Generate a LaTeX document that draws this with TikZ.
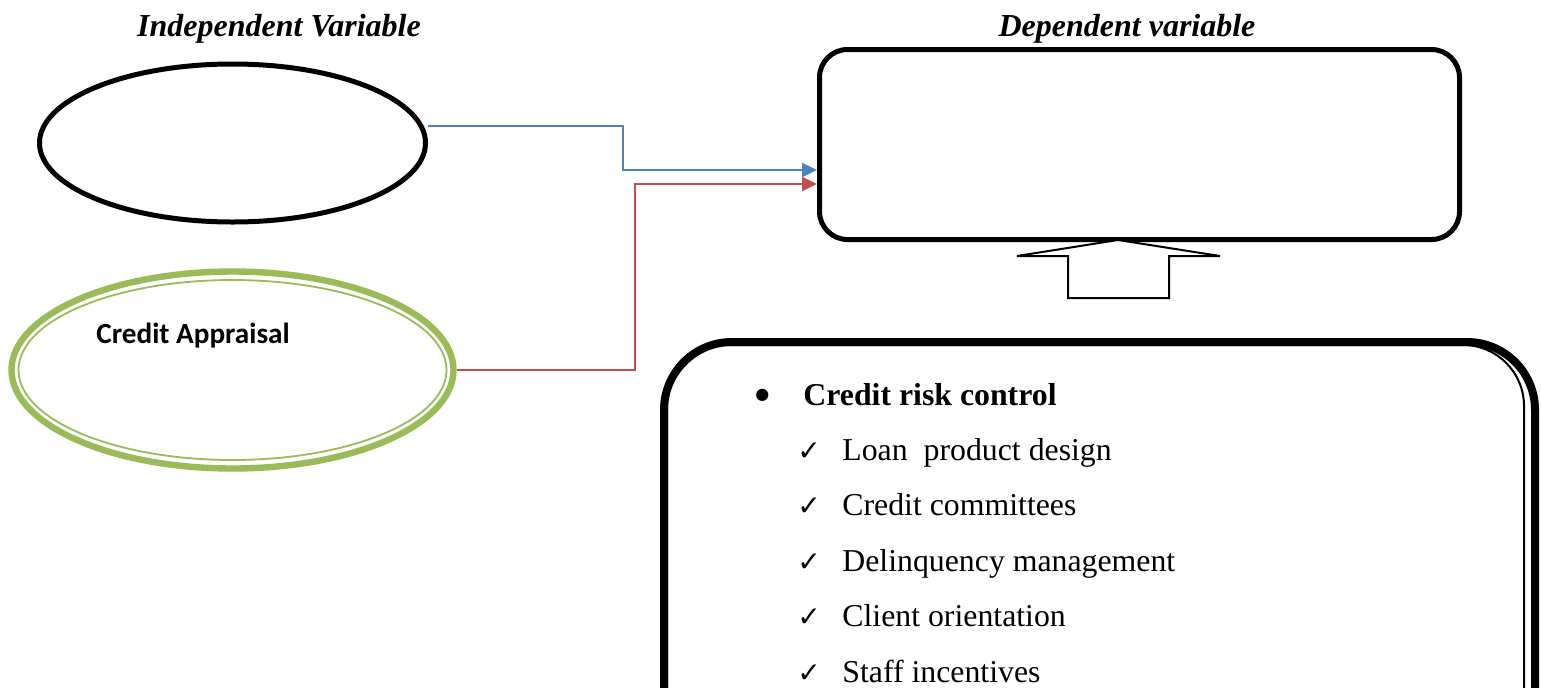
\documentclass[tikz,border=0pt]{standalone}
\usepackage{fontspec}
\setmainfont{Liberation Serif}
\newfontfamily\calib{Carlito}
\newfontfamily\symfont{DejaVu Sans}
\usetikzlibrary{shapes.geometric,arrows.meta}

\definecolor{olivegreen}{HTML}{9BBB59}
\definecolor{linkblue}{HTML}{4F81BD}
\definecolor{linkred}{HTML}{C0504D}

\tikzset{
  heading/.style={font=\fontsize{16}{19}\selectfont\bfseries\itshape, inner sep=0pt, anchor=base},
  listitem/.style={font=\fontsize{15.9}{19}\selectfont, inner sep=0pt, anchor=base west},
  link/.style={line width=1.2pt, -{Triangle[length=7.5pt,width=7pt]}},
}
\newcommand{\tick}{\makebox[22.5pt][l]{\symfont\fontsize{14}{16}\selectfont\bfseries ✓}}

\begin{document}
\begin{tikzpicture}[x=0.5pt,y=-0.5pt]
\useasboundingbox (0,0) rectangle (1541,687);

% headings
\node[heading] (hind) at (279,36) {Independent Variable};
\node[heading] (hdep) at (1127,36) {Dependent variable};

% independent variable (empty ellipse)
\node[ellipse, draw, line width=2.5pt, inner sep=0pt,
      minimum width=193pt, minimum height=79pt] (iv) at (232.5,143) {};

% credit appraisal: thick-thin green ellipse
\node[ellipse, draw=olivegreen, line width=3.2pt, inner sep=0pt,
      minimum width=221pt, minimum height=98.5pt] (ca) at (232.5,370) {};
\draw[olivegreen, line width=0.9pt] (ca.center) ellipse [x radius=214, y radius=90];
\node[font=\calib\fontsize{14.6}{17}\selectfont\bfseries, inner sep=0pt, anchor=base west]
  (catext) at (96,343) {Credit Appraisal};

% dependent variable box
\node[draw, rounded corners=14pt, line width=2.5pt, inner sep=0pt,
      minimum width=320pt, minimum height=95pt] (dv) at (1139.5,144.5) {};

% connectors
\coordinate (bs) at ([yshift=8.5pt]iv.east);
\coordinate (bk) at (623,0);
\coordinate (bt) at ([yshift=-12.75pt]dv.west);
\coordinate (rk) at (635,0);
\coordinate (rt) at ([yshift=-19.75pt]dv.west);
\draw[link, draw=linkblue] (bs) -- (bs -| bk) |- (bt);
\draw[link, draw=linkred] (ca.east) -- (ca.east -| rk) |- (rt);

% block arrow pointing up to the dependent variable box
\coordinate (tip) at (1118,240);
\draw[line width=1pt, fill=white, line join=miter]
  (tip) -- (1220,256) -- (1169,256) -- (1169,298) -- (1068,298) -- (1068,256) -- (1017,256) -- cycle;

% credit risk control box (runs past the lower edge)
\begin{scope}
  \clip (0,0) rectangle (1541,687);
  \node[draw, rounded corners=34pt, line width=4pt, inner sep=0pt, anchor=north west,
        minimum width=435.5pt, minimum height=220pt] (crc) at (660,338) {};
  \draw[line width=1pt, rounded corners=30.5pt] (667,900) -- (667,345) -- (1524,345) -- (1524,900);
\end{scope}

% list
\node[font=\fontsize{15.9}{19}\selectfont\bfseries, inner sep=0pt, anchor=base west]
  (crctitle) at (755,405) {\makebox[24pt][l]{\raisebox{2.8pt}{\symfont\fontsize{8}{10}\selectfont ●}}Credit risk control};
\node[listitem] (l1) at (797,460) {\tick Loan\ \ product design};
\node[listitem] (l2) at (797,515.5) {\tick Credit committees};
\node[listitem] (l3) at (797,571) {\tick Delinquency management};
\node[listitem] (l4) at (797,626.5) {\tick Client orientation};
\node[listitem] (l5) at (797,682) {\tick Staff incentives};
\end{tikzpicture}
\end{document}
